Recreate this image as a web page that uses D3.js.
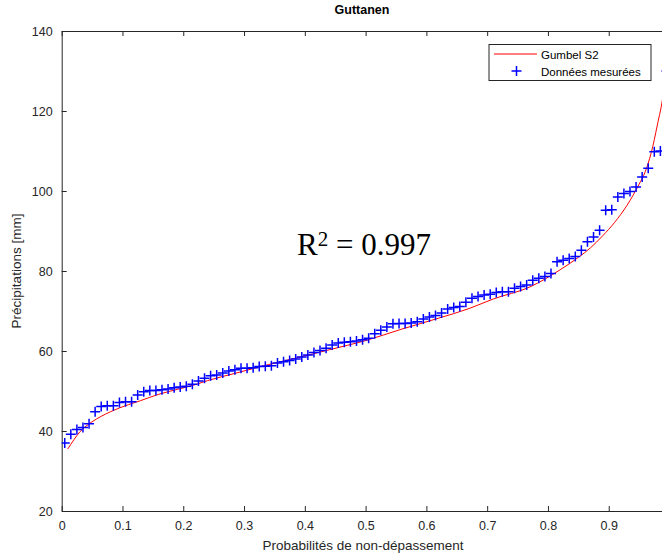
<!DOCTYPE html>
<html>
<head>
<meta charset="utf-8">
<script src="https://cdn.jsdelivr.net/npm/d3@7"></script>
<style>
  body { margin: 0; background: #fff; }
  svg { display: block; font-family: Helvetica, Arial, "Liberation Sans", sans-serif; }
</style>
</head>
<body>
<div id="vis"></div>
<script>
const FRAME_WIDTH = 662;
const FRAME_HEIGHT = 555;
const MARGINS = {left: 61.7, right: -7.5, top: 31, bottom: 44};
const AX_COLOR = "#262626";

// measured values, sorted (plotting position (i-0.5)/n)
const MEASURED = [
  37, 39.2, 40.4, 40.9, 41.8, 44.8, 46.1, 46.3, 46.3, 47.1,
  47.3, 47.3, 49, 49.8, 50.1, 50.1, 50.3, 50.5, 50.8, 51,
  51.2, 51.7, 52.5, 53.2, 53.8, 54, 54.5, 55, 55.3, 55.7,
  55.7, 55.8, 56.1, 56.2, 56.3, 57, 57.3, 57.6, 58, 58.5,
  59, 59.6, 60.1, 60.7, 61.5, 62, 62.2, 62.3, 62.5, 62.8,
  63.2, 64.3, 65.2, 66, 66.8, 66.9, 66.9, 67, 67.3, 68,
  68.5, 68.9, 69.5, 70.5, 70.9, 71.1, 72.2, 73.2, 73.6, 74,
  74.2, 74.6, 74.8, 74.8, 75.7, 76.1, 76.5, 77.7, 78.2, 78.6,
  79.4, 82.3, 82.7, 83.1, 83.6, 85.2, 87.3, 88.5, 90.2, 95.2,
  95.3, 98.5, 99.4, 99.9, 101, 103.5, 105.7, 109.8, 110, 130
];
const N = MEASURED.length;
const PROB = MEASURED.map((d, i) => (i + 0.5) / N);

// fitted Gumbel S2 curve
const FIT_P = [0.01, 0.02, 0.03, 0.04, 0.05, 0.08, 0.11, 0.13, 0.16, 0.19, 0.22, 0.24, 0.29, 0.34,
  0.39, 0.44, 0.5, 0.56, 0.62, 0.67, 0.71, 0.77, 0.82, 0.85, 0.87, 0.89, 0.91, 0.93, 0.95, 0.96,
  0.97, 0.98, 0.99, 0.995];
const FIT_V = [35.5, 37.8, 39.8, 41.2, 42.3, 44.8, 46.6, 47.6, 49.2, 50.4, 51.6, 52.6, 54.6, 56.6,
  58.4, 60.3, 62.6, 65.5, 68.2, 70.6, 73, 76, 80.3, 83.4, 85.8, 88.8, 92.2, 96.4, 101.7, 104.8,
  109.6, 116.5, 124.5, 131];

const X_TICKS = [0, 0.1, 0.2, 0.3, 0.4, 0.5, 0.6, 0.7, 0.8, 0.9, 1];
const Y_TICKS = [20, 40, 60, 80, 100, 120, 140];

const X_SCALE = d3.scaleLinear()
  .domain([0, 1])
  .range([MARGINS.left, FRAME_WIDTH - MARGINS.right]);
const Y_SCALE = d3.scaleLinear()
  .domain([20, 140])
  .range([FRAME_HEIGHT - MARGINS.bottom, MARGINS.top]);

const FRAME = d3.select("#vis")
  .append("svg")
    .attr("width", FRAME_WIDTH)
    .attr("height", FRAME_HEIGHT);

FRAME.append("defs").append("clipPath")
    .attr("id", "plotclip")
  .append("rect")
    .attr("x", X_SCALE(0))
    .attr("y", Y_SCALE(140))
    .attr("width", X_SCALE(1) - X_SCALE(0))
    .attr("height", Y_SCALE(20) - Y_SCALE(140));

// axes (ticks inside, mirrored on top / right); the "1" label falls outside the picture
const xBottom = FRAME.append("g")
  .attr("transform", "translate(0," + Y_SCALE(20) + ")")
  .call(d3.axisBottom(X_SCALE).tickValues(X_TICKS).tickSizeInner(-5).tickSizeOuter(0)
    .tickPadding(10).tickFormat(d => d === 0 ? "0" : d === 1 ? "" : d3.format(".1f")(d)));
const xTop = FRAME.append("g")
  .attr("transform", "translate(0," + Y_SCALE(140) + ")")
  .call(d3.axisTop(X_SCALE).tickValues(X_TICKS).tickSizeInner(-5).tickSizeOuter(0).tickFormat(""));
const yLeft = FRAME.append("g")
  .attr("transform", "translate(" + X_SCALE(0) + ",0)")
  .call(d3.axisLeft(Y_SCALE).tickValues(Y_TICKS).tickSizeInner(-5).tickSizeOuter(0).tickPadding(9));
const yRight = FRAME.append("g")
  .attr("transform", "translate(" + X_SCALE(1) + ",0)")
  .call(d3.axisRight(Y_SCALE).tickValues(Y_TICKS).tickSizeInner(-5).tickSizeOuter(0).tickFormat(""));

[xBottom, xTop, yLeft, yRight].forEach(g => {
  g.select(".domain").attr("stroke", AX_COLOR).attr("stroke-width", 1);
  g.selectAll(".tick line").attr("stroke", AX_COLOR);
  g.selectAll(".tick text").attr("fill", AX_COLOR).attr("font-size", 12.5)
    .attr("font-family", "Helvetica, Arial, 'Liberation Sans', sans-serif");
});

const PLOT = FRAME.append("g").attr("clip-path", "url(#plotclip)");

// fitted curve
PLOT.append("path")
  .datum(FIT_P.map((p, i) => [p, FIT_V[i]]))
  .attr("fill", "none")
  .attr("stroke", "#ff0000")
  .attr("stroke-width", 1)
  .attr("d", d3.line().curve(d3.curveMonotoneX).x(d => X_SCALE(d[0])).y(d => Y_SCALE(d[1])));

// measured points as "+" markers
const plus = (cx, cy, s) => "M" + (cx - s) + "," + cy + "H" + (cx + s) + "M" + cx + "," + (cy - s) + "V" + (cy + s);
PLOT.selectAll("path.pt")
  .data(MEASURED)
  .enter()
  .append("path")
    .attr("class", "pt")
    .attr("d", (d, i) => plus(X_SCALE(PROB[i]), Y_SCALE(d), 5))
    .attr("stroke", "#0000ff")
    .attr("stroke-width", 1.5)
    .attr("fill", "none");

// title and labels
FRAME.append("text")
  .attr("x", 362).attr("y", 14)
  .attr("text-anchor", "middle")
  .attr("font-size", 12.5).attr("font-weight", "bold")
  .attr("fill", "#000")
  .text("Guttanen");

FRAME.append("text")
  .attr("x", 363).attr("y", 550)
  .attr("text-anchor", "middle")
  .attr("font-size", 13.5)
  .attr("fill", AX_COLOR)
  .text("Probabilités de non-dépassement");

FRAME.append("text")
  .attr("transform", "translate(21," + ((Y_SCALE(20) + Y_SCALE(140)) / 2) + ") rotate(-90)")
  .attr("text-anchor", "middle")
  .attr("font-size", 13.5)
  .attr("fill", AX_COLOR)
  .text("Précipitations [mm]");

// R² annotation
const r2 = FRAME.append("text")
  .attr("x", 297).attr("y", 255)
  .attr("font-family", "'Liberation Serif', 'DejaVu Serif', serif")
  .attr("font-size", 31)
  .attr("fill", "#000");
r2.append("tspan").text("R");
r2.append("tspan").attr("font-size", 21).attr("dy", -9).text("2");
r2.append("tspan").attr("dy", 9).text(" = 0.997");

// legend
const LEG = FRAME.append("g");
LEG.append("rect")
  .attr("x", 489).attr("y", 44.5)
  .attr("width", 162).attr("height", 36)
  .attr("fill", "#fff")
  .attr("stroke", AX_COLOR)
  .attr("stroke-width", 1);
LEG.append("line")
  .attr("x1", 494).attr("x2", 537)
  .attr("y1", 54).attr("y2", 54)
  .attr("stroke", "#ff0000").attr("stroke-width", 1);
LEG.append("path")
  .attr("d", plus(516.5, 71, 5))
  .attr("stroke", "#0000ff").attr("stroke-width", 1.5);
LEG.selectAll("text")
  .data(["Gumbel S2", "Données mesurées"])
  .enter()
  .append("text")
    .attr("x", 541)
    .attr("y", (d, i) => 58.5 + i * 17.5)
    .attr("font-size", 11.5)
    .attr("fill", "#000")
    .text(d => d);
</script>
</body>
</html>
